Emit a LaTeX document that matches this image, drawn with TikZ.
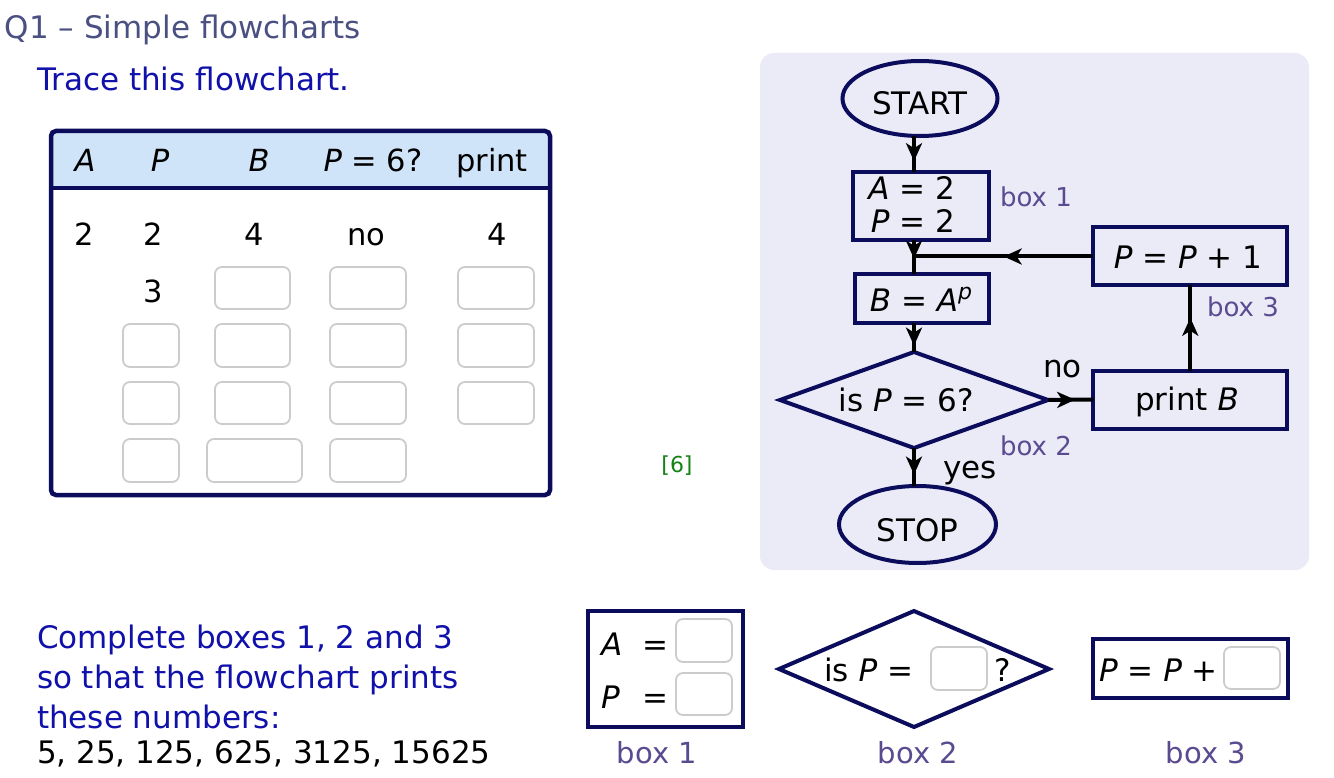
\documentclass[tikz,border=0pt]{standalone}
\usepackage{fontspec}
\setmainfont{DejaVu Sans}
\usetikzlibrary{arrows.meta,decorations.markings,shapes.geometric}
\definecolor{navy}{RGB}{12,12,92}
\definecolor{titlec}{RGB}{75,80,130}
\definecolor{instr}{RGB}{16,16,170}
\definecolor{labc}{RGB}{90,75,145}
\definecolor{panelc}{RGB}{235,235,248}
\definecolor{headc}{RGB}{207,228,249}
\definecolor{boxg}{RGB}{204,204,204}
\definecolor{greenc}{RGB}{20,130,20}
\begin{document}
\begin{tikzpicture}[x=1pt,y=-1pt,
  every node/.style={inner sep=0pt,outer sep=0pt},
  txt/.style={font=\fontsize{31}{33}\selectfont,text=black},
  ttxt/.style={font=\fontsize{30.5}{32}\selectfont,text=black},
  blu/.style={font=\fontsize{31}{33}\selectfont,text=instr},
  lab/.style={font=\fontsize{26}{28}\selectfont,text=labc},
  blab/.style={font=\fontsize{29}{31}\selectfont,text=labc},
  fbox/.style={draw=navy,line width=4pt,rectangle},
  foval/.style={draw=navy,line width=4pt,ellipse},
  fdia/.style={draw=navy,line width=4pt,diamond},
  inbox/.style={draw=boxg,line width=1.8pt,rounded corners=7pt,fill=white},
  conn/.style={draw=black,line width=4pt},
  midarrow/.style={postaction={decorate,decoration={markings,
     mark=at position #1 with {\arrow{Stealth[length=18pt,width=16pt,inset=5pt]}}}}}
]
\useasboundingbox (0,0) rectangle (1334,778);
\fill[white] (0,0) rectangle (1334,778);

% title and instruction
\node[font=\fontsize{31}{33}\selectfont,text=titlec,anchor=base west] (title) at (5,39) {Q1 – Simple flowcharts};
\node[blu,anchor=base west] (trace) at (37,91) {Trace this flowchart.};

% table
\fill[white,rounded corners=5pt] (51,131) rectangle (550,495);
\fill[headc,rounded corners=5pt] (51,188) -- (51,131) -- (550,131) -- (550,188) -- cycle;
\draw[navy,line width=4pt] (51,188) -- (550,188);
\draw[navy,line width=4.5pt,rounded corners=5pt] (51,131) rectangle (550,495);

\node[ttxt,anchor=base] (hA) at (85,172) {\textit{A}};
\node[ttxt,anchor=base] (hP) at (160,172) {\textit{P}};
\node[ttxt,anchor=base] (hB) at (259,172) {\textit{B}};
\node[ttxt,anchor=base] (hQ) at (373,172) {\textit{P} = 6?};
\node[ttxt,anchor=base] (hpr) at (492,172) {print};

\node[ttxt,anchor=base] (r1a) at (84,246) {2};
\node[ttxt,anchor=base] (r1p) at (153,246) {2};
\node[ttxt,anchor=base] (r1b) at (254,246) {4};
\node[ttxt,anchor=base] (r1q) at (366,246) {no};
\node[ttxt,anchor=base] (r1r) at (497,246) {4};
\node[ttxt,anchor=base] (r2p) at (153,302) {3};

% input boxes in table
\draw[inbox] (215,267) rectangle (290,309);
\draw[inbox] (330,267) rectangle (406,309);
\draw[inbox] (458,267) rectangle (534,309);
\foreach \ya/\yb in {324/367,382/424}{
  \draw[inbox] (123,\ya) rectangle (179,\yb);
  \draw[inbox] (215,\ya) rectangle (290,\yb);
  \draw[inbox] (330,\ya) rectangle (406,\yb);
  \draw[inbox] (458,\ya) rectangle (534,\yb);
}
\draw[inbox] (123,439) rectangle (179,482);
\draw[inbox] (207,439) rectangle (302,482);
\draw[inbox] (330,439) rectangle (406,482);

\node[font=\fontsize{22}{24}\selectfont,text=greenc,anchor=base] (marks) at (677,472) {[6]};

% flowchart panel
\fill[panelc,rounded corners=14pt] (760,53) rectangle (1309,570);

\node[foval,minimum width=155pt,minimum height=75pt] (start) at (920,98.5) {};
\node[txt,anchor=base] (starttxt) at (920,115) {START};

\node[fbox,minimum width=136pt,minimum height=68pt] (b1) at (921,206) {};
\node[txt,anchor=base east] (b1a) at (955,200) {\textit{A} = 2};
\node[txt,anchor=base east] (b1p) at (955,233) {\textit{P} = 2};
\node[lab,anchor=base west] (lb1) at (1000,206.5) {box 1};

\node[fbox,minimum width=134pt,minimum height=49pt] (bb) at (922,298.5) {};
\node[txt,anchor=base] (bbt) at (921,311) {\textit{B} = \textit{A}\raisebox{11pt}{\fontsize{22}{24}\selectfont\textit{p}}};

\node[fdia,minimum width=268pt,minimum height=96pt] (dia) at (914,400) {};
\node[txt,anchor=base] (diat) at (906,411.5) {is \textit{P} = 6?};
\node[lab,anchor=base west] (lb2) at (1000,455) {box 2};

\node[fbox,minimum width=194pt,minimum height=58pt] (pp) at (1190.3,256.5) {};
\node[txt,anchor=base] (ppt) at (1188,269) {\textit{P} = \textit{P} + 1};
\node[lab,anchor=base west] (lb3) at (1207,316.5) {box 3};

\node[fbox,minimum width=194pt,minimum height=58pt] (pr) at (1190.3,399.5) {};
\node[txt,anchor=base] (prt) at (1187,410) {print \textit{B}};

\node[foval,minimum width=157pt,minimum height=77pt] (stop) at (917.5,524.5) {};
\node[txt,anchor=base] (stopt) at (917.5,541) {STOP};

\node[txt,anchor=base west] (no) at (1043,377) {no};
\node[txt,anchor=base west] (yes) at (943,478) {yes};

\coordinate (jn) at (dia.north |- pp.west);
\draw[conn,midarrow=0.7] (start.south -| dia.north) -- (b1.north -| dia.north);
\draw[conn,midarrow=0.55] (b1.south -| dia.north) -- (bb.north -| dia.north);
\draw[conn,midarrow=0.5] (pp.west) -- (jn);
\draw[conn,midarrow=0.78] (bb.south -| dia.north) -- (dia.north);
\draw[conn,midarrow=0.6] (dia.east) -- (pr.west);
\draw[conn,midarrow=0.62] (pr.north) -- (pp.south);
\draw[conn,midarrow=0.7] (dia.south) -- (stop.north -| dia.south);

% bottom instructions
\node[blu,anchor=base west] (c1) at (37,648) {Complete boxes 1, 2 and 3};
\node[blu,anchor=base west] (c2) at (37,688) {so that the flowchart prints};
\node[blu,anchor=base west] (c3) at (37,728) {these numbers:};
\node[txt,anchor=base west] (nums) at (37,763) {5, 25, 125, 625, 3125, 15625};

% bottom box 1
\node[fbox,fill=white,minimum width=155pt,minimum height=116pt] (q1) at (665.5,669) {};
\node[txt,anchor=base west] (q1a) at (601,655) {\textit{A}};
\node[txt,anchor=base west] (q1ae) at (642,655) {=};
\node[txt,anchor=base west] (q1p) at (601,708) {\textit{P}};
\node[txt,anchor=base west] (q1pe) at (642,708) {=};
\draw[inbox] (676,619) rectangle (732,662);
\draw[inbox] (676,673) rectangle (732,715);
\node[blab,anchor=base] (q1l) at (657,763) {box 1};

% bottom box 2
\node[fdia,fill=white,minimum width=270pt,minimum height=116pt] (q2) at (914,669) {};
\node[txt,anchor=base west] (q2t) at (824,681) {is \textit{P} =};
\draw[inbox] (931,647) rectangle (987,690);
\node[txt,anchor=base west] (q2q) at (994,681) {?};
\node[blab,anchor=base] (q2l) at (918,763) {box 2};

% bottom box 3
\node[fbox,fill=white,minimum width=195pt,minimum height=59pt] (q3) at (1190.5,668.5) {};
\node[txt,anchor=base west] (q3t) at (1099,681) {\textit{P} = \textit{P} +};
\draw[inbox] (1224,647) rectangle (1280,689);
\node[blab,anchor=base] (q3l) at (1206,763) {box 3};
\end{tikzpicture}
\end{document}
